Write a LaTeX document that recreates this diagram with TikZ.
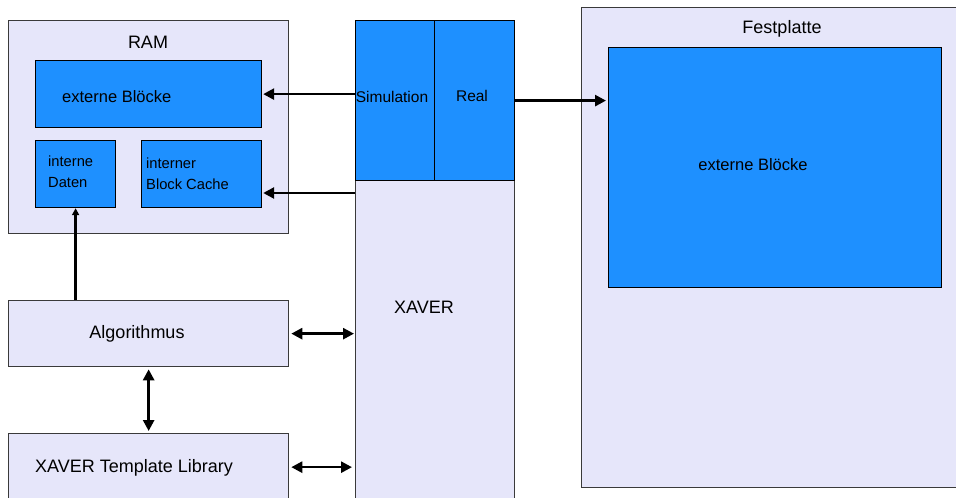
\documentclass[tikz,border=0pt]{standalone}
\usepackage{fontspec}
\setmainfont{Liberation Sans}
\usetikzlibrary{arrows.meta}
\definecolor{lav}{HTML}{E6E6FA}
\definecolor{blk}{HTML}{1E90FF}
\definecolor{edge}{HTML}{3A3A3A}
\begin{document}
\begin{tikzpicture}[x=1pt,y=-1pt,
  outerbox/.style={draw=edge,fill=lav,line width=1.3pt,rectangle,inner sep=0pt,anchor=north west},
  innerbox/.style={draw=black,fill=blk,line width=1.2pt,rectangle,inner sep=0pt,anchor=north west},
  conn/.style={line width=2.6pt,-{Triangle[length=11pt,width=11pt]}},
  small/.style={line width=2.4pt,-{Triangle[length=7pt,width=7pt]}},
  both/.style={line width=2.6pt,{Triangle[length=11pt,width=11pt]}-{Triangle[length=11pt,width=11pt]}},
  big/.style={inner sep=0pt,font=\fontsize{18}{21}\selectfont},
  mid/.style={inner sep=0pt,font=\fontsize{16.5}{20}\selectfont},
  sml/.style={inner sep=0pt,font=\fontsize{15.5}{19}\selectfont},
  tiny/.style={inner sep=0pt,align=left,font=\fontsize{14.7}{21}\selectfont}
]
\useasboundingbox (0,0) rectangle (956,498);
\clip (0,0) rectangle (956,498);

% RAM with its three areas
\node[outerbox,minimum width=280pt,minimum height=213pt] (ram) at (8,20) {};
\node[innerbox,minimum width=226pt,minimum height=67pt] (extB) at (35,60) {};
\node[innerbox,minimum width=80pt,minimum height=67pt] (daten) at (35,140) {};
\node[innerbox,minimum width=120pt,minimum height=67pt] (cache) at (141,140) {};
\node[big] (ramT) at (148,42) {RAM};
\node[mid,anchor=west] (extBT) at (62,97) {externe Blöcke};
\node[tiny,anchor=north west] (datenT) at (48,156) {interne\\Daten};
\node[tiny,anchor=north west] (cacheT) at (146,158) {interner\\Block Cache};

% XAVER column
\node[outerbox,minimum width=159pt,minimum height=340pt] (xaver) at (355,180) {};
\node[innerbox,minimum width=79pt,minimum height=160pt] (sim) at (355,20) {};
\node[innerbox,minimum width=80pt,minimum height=160pt] (real) at (434,20) {};
\node[sml] (simT) at (392,97) {Simulation};
\node[sml] (realT) at (472,96) {Real};
\node[big] (xaverT) at (424,307) {XAVER};

% hard disk
\node[outerbox,minimum width=420pt,minimum height=480pt] (fest) at (581,7) {};
\node[innerbox,minimum width=333pt,minimum height=240pt] (festB) at (608,47) {};
\node[big] (festT) at (782,29) {Festplatte};
\node[mid] (festBT) at (753,165) {externe Blöcke};

% algorithm and library
\node[outerbox,minimum width=280pt,minimum height=66pt] (algo) at (8,300) {};
\node[outerbox,minimum width=280pt,minimum height=67pt] (tl) at (8,433) {};
\node[big] (algoT) at (137,334) {Algorithmus};
\node[big,anchor=west] (tlT) at (35,468) {XAVER Template Library};

% connectors
\draw[conn,shorten >=1pt] (sim.west |- extB.east) -- (extB.east);
\coordinate (c1) at ([yshift=-13pt]xaver.north west);
\draw[conn,shorten >=1pt] (c1) -- (cache.east |- c1);
\draw[conn,shorten >=2pt] (real.east) -- (festB.west |- real.east);
\draw[small] (daten.south |- algo.north) -- (daten.south);
\draw[both,shorten <=2pt,shorten >=1pt] (algo.east) -- (xaver.west |- algo.east);
\draw[both,shorten <=2pt,shorten >=3pt] (tl.east) -- (xaver.west |- tl.east);
\draw[both,shorten <=2pt,shorten >=2pt] (algo.south) -- (tl.north);
\end{tikzpicture}
\end{document}
